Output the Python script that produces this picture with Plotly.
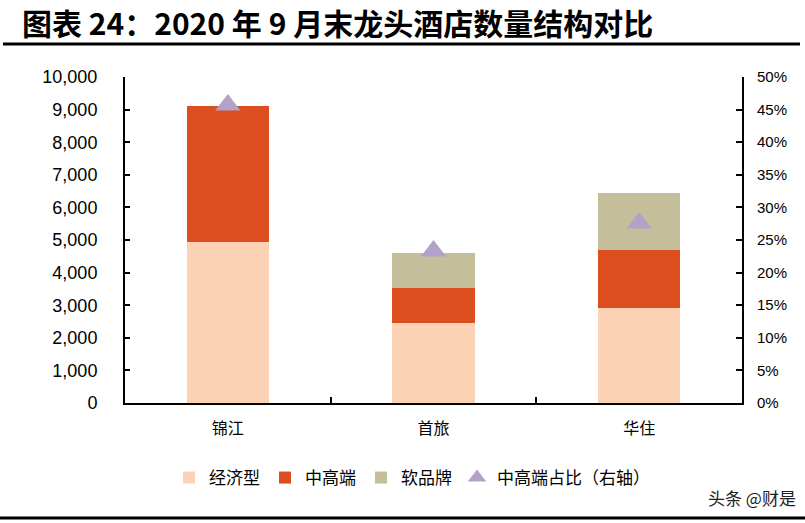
import plotly.graph_objects as go

categories = ["锦江", "首旅", "华住"]
economy = [4950, 2445, 2914]
midhigh = [4160, 1073, 1779]
soft = [0, 1092, 1747]
midhigh_share = [45.7, 23.3, 27.6]

font_cjk = "Noto Sans CJK SC"
L, R, T, B = 125, 63, 77, 120
W, H = 805, 523
pw = W - L - R
ph = H - T - B

def px(x):
    return (x - L) / pw

def py(y):
    return (H - B - y) / ph

fig = go.Figure()
fig.add_trace(go.Bar(name="经济型", x=categories, y=economy, marker=dict(color="#FBD3B4", line=dict(width=0)), width=0.4))
fig.add_trace(go.Bar(name="中高端", x=categories, y=midhigh, marker=dict(color="#DC4E1F", line=dict(width=0)), width=0.4))
fig.add_trace(go.Bar(name="软品牌", x=categories, y=soft, marker=dict(color="#C4BE9A", line=dict(width=0)), width=0.4))
fig.add_trace(go.Scatter(name="中高端占比（右轴）", x=categories, y=midhigh_share, yaxis="y2", mode="markers",
                         marker=dict(symbol="triangle-up", size=22, color="#B3A2C8")))

fig.update_layout(
    width=W, height=H, barmode="stack", bargap=0.6,
    margin=dict(l=L, r=R, t=T, b=B),
    plot_bgcolor="white", paper_bgcolor="white",
    font=dict(family="Arial, Liberation Sans", color="#000000"),
    xaxis=dict(range=[-0.5, 2.5], showline=True, linecolor="#000", linewidth=2,
               ticks="inside", tickson="boundaries", ticklen=6, tickwidth=2, tickcolor="#000",
               tickfont=dict(family=font_cjk, size=16, color="#000"), showgrid=False, ticklabelstandoff=10),
    yaxis=dict(range=[0, 10000], dtick=1000, tickformat=",d", showline=True, linecolor="#000", linewidth=2,
               ticks="inside", ticklen=5, tickwidth=2, tickcolor="#000", showgrid=False, zeroline=False,
               tickfont=dict(family="Arial, Liberation Sans", size=18, color="#000"), ticklabelstandoff=22),
    yaxis2=dict(range=[0, 50], dtick=5, ticksuffix="%", overlaying="y", side="right", showline=True,
                linecolor="#000", linewidth=2, ticks="inside", ticklen=6, tickwidth=2, tickcolor="#000",
                showgrid=False, zeroline=False, tickfont=dict(family="Arial, Liberation Sans", size=15, color="#000"),
                ticklabelstandoff=10),
    legend=dict(orientation="h", x=px(412), xanchor="center", y=py(478), yanchor="middle",
                font=dict(family=font_cjk, size=17, color="#000"), itemwidth=30, traceorder="normal"),
    showlegend=True,
)

fig.add_annotation(text="<b>图表 24：2020 年 9 月末龙头酒店数量结构对比</b>", xref="paper", yref="paper",
                   x=px(20), y=py(22), xanchor="left", yanchor="middle", showarrow=False,
                   font=dict(family=font_cjk, size=30, color="#000"))
fig.add_annotation(text="头条 @财是", xref="paper", yref="paper", x=px(798), y=py(497), xanchor="right",
                   yanchor="middle", showarrow=False, font=dict(family=font_cjk, size=17, color="#222"))
fig.add_shape(type="line", xref="paper", yref="paper", x0=px(3), x1=px(800), y0=py(44), y1=py(44),
              line=dict(color="#000", width=3))
fig.add_shape(type="line", xref="paper", yref="paper", x0=px(0), x1=px(805), y0=py(518), y1=py(518),
              line=dict(color="#000", width=3))

fig.write_html("out.html", config={"displayModeBar": False},
               post_script="document.body.style.margin='0';document.body.style.overflow='hidden';")
